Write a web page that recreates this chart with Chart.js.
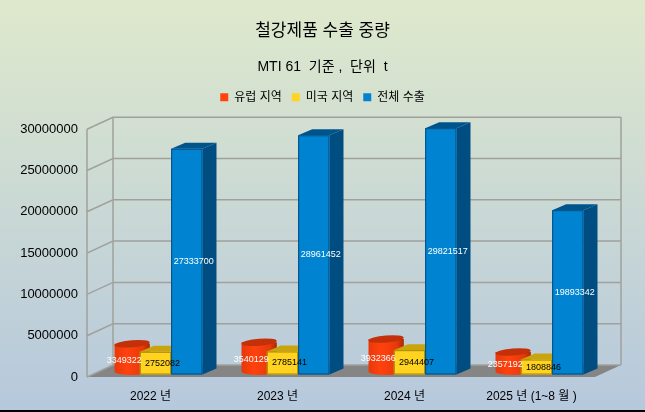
<!DOCTYPE html>
<html>
<head>
<meta charset="utf-8">
<script src="https://cdn.jsdelivr.net/npm/chart.js@4.4.1/dist/chart.umd.min.js"></script>
<style>
  html, body { margin: 0; padding: 0; }
  #wrap { width: 645px; height: 412px; }
</style>
</head>
<body>
<div id="wrap"><canvas id="chart" width="645" height="412"></canvas></div>
<script>
const categories = ['2022 년', '2023 년', '2024 년', '2025 년 (1~8 월 )'];
const europe = [3349322, 3540129, 3932366, 2357192];
const usa = [2752082, 2785141, 2944407, 1808846];
const total = [27333700, 28961452, 29821517, 19893342];
const seriesNames = ['유럽 지역', '미국 지역', '전체 수출'];

// front / top / side colours per series, label colour, shape
const faces = [
  { front: '#ff420e', top: '#c4300a', side: '#a92805', label: '#ffffff', cyl: true },
  { front: '#ffd320', top: '#c9a40c', side: '#a68700', label: '#000000' },
  { front: '#0084d1', top: '#00548c', side: '#004d82', label: '#ffffff' }
];

const FONT = "'Liberation Sans', 'Noto Sans CJK KR', sans-serif";
const DX = 26, DY = 12;        // depth of floor and walls
const OX = 5, OY = 2.5;        // bars stand a little behind the front edge
const BDX = 14, BDY = 6;       // depth of a bar

// push the plot down a bit below the legend
const legendGap = {
  id: 'legendGap',
  beforeInit(chart) {
    const fit = chart.legend.fit;
    chart.legend.fit = function () {
      fit.call(this);
      this.height += 16;
    };
  }
};

function drawBox(ctx, f, x0, x1, yt, yb) {
  ctx.fillStyle = f.side;
  ctx.beginPath();
  ctx.moveTo(x1, yt); ctx.lineTo(x1 + BDX, yt - BDY);
  ctx.lineTo(x1 + BDX, yb - BDY); ctx.lineTo(x1, yb);
  ctx.closePath(); ctx.fill();

  ctx.fillStyle = f.top;
  ctx.beginPath();
  ctx.moveTo(x0, yt); ctx.lineTo(x1, yt);
  ctx.lineTo(x1 + BDX, yt - BDY); ctx.lineTo(x0 + BDX, yt - BDY);
  ctx.closePath(); ctx.fill();

  ctx.fillStyle = f.front;
  ctx.fillRect(x0, yt, x1 - x0, yb - yt);
  ctx.strokeStyle = f.side;
  ctx.lineWidth = 1;
  ctx.strokeRect(x0 + 0.5, yt + 0.5, x1 - x0 - 1, yb - yt - 1);
}

function drawCylinder(ctx, f, x0, x1, yt, yb) {
  const cx = (x0 + x1) / 2 + BDX / 2 + 1;
  const rx = (x1 - x0) / 2 + 2;
  const ry = 3.5;
  const ytc = yt - BDY / 2, ybc = yb - BDY / 2;

  const g = ctx.createLinearGradient(cx - rx, 0, cx + rx, 0);
  g.addColorStop(0, '#e8380a');
  g.addColorStop(0.35, f.front);
  g.addColorStop(0.8, '#e63a0b');
  g.addColorStop(1, f.side);
  ctx.fillStyle = g;
  ctx.beginPath();
  ctx.moveTo(cx - rx, ytc);
  ctx.lineTo(cx - rx, ybc);
  ctx.ellipse(cx, ybc, rx, ry, 0, Math.PI, 0, true);
  ctx.lineTo(cx + rx, ytc);
  ctx.closePath();
  ctx.fill();

  ctx.fillStyle = f.top;
  ctx.beginPath();
  ctx.ellipse(cx, ytc, rx, ry, -0.08, 0, Math.PI * 2);
  ctx.fill();
}

const box3d = {
  id: 'box3d',
  beforeDraw(chart) {
    const { ctx, width, height } = chart;
    const g = ctx.createLinearGradient(0, 0, 0, height);
    g.addColorStop(0, '#dee9cc');
    g.addColorStop(1, '#b6c8dd');
    ctx.save();
    ctx.fillStyle = g;
    ctx.fillRect(0, 0, width, height);
    ctx.fillStyle = '#000';
    ctx.fillRect(0, height - 2, width, 2);
    ctx.restore();
  },
  beforeDatasetsDraw(chart) {
    const { ctx, chartArea: a, scales: { y } } = chart;
    ctx.save();

    // floor
    ctx.fillStyle = '#858585';
    ctx.beginPath();
    ctx.moveTo(a.left, a.bottom);
    ctx.lineTo(a.right, a.bottom);
    ctx.lineTo(a.right + DX, a.bottom - DY);
    ctx.lineTo(a.left + DX, a.bottom - DY);
    ctx.closePath();
    ctx.fill();

    // walls and grid
    ctx.strokeStyle = '#a0a19c';
    ctx.lineWidth = 1.5;
    ctx.beginPath();
    y.ticks.forEach(t => {
      const py = y.getPixelForValue(t.value);
      ctx.moveTo(a.left, py);
      ctx.lineTo(a.left + DX, py - DY);
      ctx.lineTo(a.right + DX, py - DY);
    });
    ctx.moveTo(a.left, a.top); ctx.lineTo(a.left, a.bottom);
    ctx.moveTo(a.left + DX, a.top - DY); ctx.lineTo(a.left + DX, a.bottom - DY);
    ctx.moveTo(a.right + DX, a.top - DY); ctx.lineTo(a.right + DX, a.bottom - DY);
    ctx.stroke();

    // bars, left to right so each one covers its neighbour's side face
    const metas = chart.data.datasets.map((d, i) => chart.getDatasetMeta(i));
    const labels = [];
    categories.forEach((c, i) => {
      metas.forEach((meta, d) => {
        const el = meta.data[i];
        const p = el.getProps(['x', 'y', 'base', 'width'], true);
        const f = faces[d];
        const x0 = p.x - p.width / 2 + OX, x1 = x0 + p.width;
        const yt = p.y - OY, yb = p.base - OY;

        if (f.cyl) drawCylinder(ctx, f, x0, x1, yt, yb);
        else drawBox(ctx, f, x0, x1, yt, yb);

        const v = chart.data.datasets[d].data[i];
        const lx = x0 + p.width / 2 + (f.cyl ? 0 : BDX / 2);
        labels.push({ text: String(v), x: lx, y: (yt + yb) / 2, color: f.label });
      });
    });

    ctx.font = '9px ' + FONT;
    ctx.textAlign = 'center';
    ctx.textBaseline = 'middle';
    labels.forEach(l => {
      ctx.fillStyle = l.color;
      ctx.fillText(l.text, l.x, l.y);
    });

    ctx.restore();
    return false;
  }
};

Chart.defaults.font.family = FONT;
Chart.defaults.color = '#000';

new Chart(document.getElementById('chart'), {
  type: 'bar',
  data: {
    labels: categories,
    datasets: [europe, usa, total].map((vals, i) => ({
      label: seriesNames[i],
      data: vals,
      backgroundColor: faces[i].front,
      borderWidth: 0,
      categoryPercentage: 0.74,
      barPercentage: 1.0
    }))
  },
  options: {
    responsive: false,
    animation: false,
    devicePixelRatio: 1,
    layout: { padding: 0 },
    plugins: {
      title: {
        display: true,
        text: '철강제품 수출 중량',
        font: { size: 17, weight: 'normal' },
        color: '#000',
        padding: { top: 21, bottom: 0 }
      },
      subtitle: {
        display: true,
        text: 'MTI 61  기준 ,  단위  t',
        font: { size: 14 },
        color: '#000',
        padding: { top: 17, bottom: 6 }
      },
      legend: {
        position: 'top',
        labels: {
          boxWidth: 8,
          boxHeight: 8,
          padding: 10,
          font: { size: 12 },
          color: '#000'
        }
      },
      tooltip: { enabled: false }
    },
    scales: {
      x: {
        grid: { display: false, drawTicks: false },
        border: { display: false },
        ticks: { padding: 12, font: { size: 12 }, color: '#000' },
        afterFit(s) { s.height = 35; }
      },
      y: {
        min: 0,
        max: 30000000,
        grid: { display: false, drawTicks: false },
        border: { display: false },
        ticks: {
          stepSize: 5000000,
          padding: 9,
          font: { size: 13 },
          color: '#000',
          callback: v => String(v)
        },
        afterFit(s) { s.width = 87; }
      },
      // empty strip on the right, room for the 3D back wall
      yRoom: {
        type: 'linear',
        position: 'right',
        grid: { display: false, drawTicks: false },
        border: { display: false },
        ticks: { display: false },
        afterFit(s) { s.width = 50; }
      }
    }
  },
  plugins: [legendGap, box3d]
});
</script>
</body>
</html>
